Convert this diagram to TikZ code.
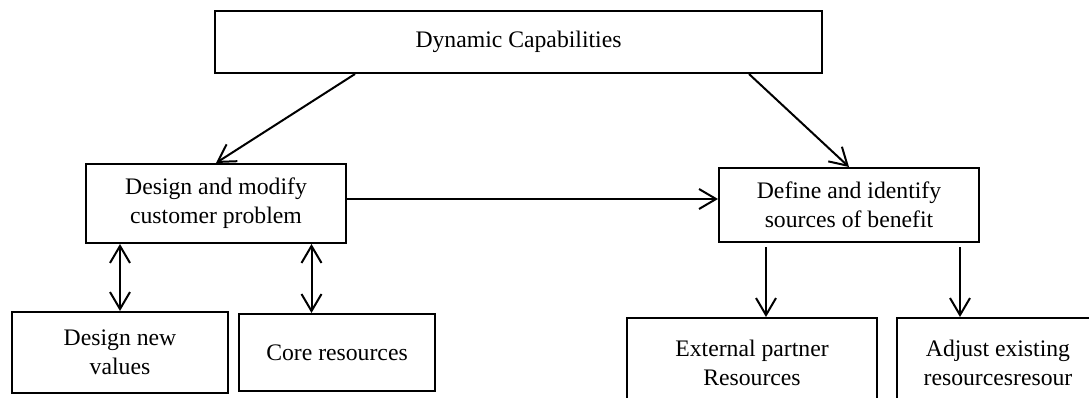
\documentclass[tikz,border=0pt]{standalone}
\usepackage{fontspec}
\setmainfont{Liberation Serif}
\usetikzlibrary{arrows.meta,positioning}

\begin{document}
\begin{tikzpicture}[x=1pt,y=-1pt]
\tikzset{
     frame/.style={draw, line width=2pt, inner sep=0pt, align=center,
        font=\fontsize{23.7}{29}\selectfont},
     barb/.tip={Straight Barb[length=17pt,width=20pt]},
     link/.style={line width=2pt, -barb},
     twoway/.style={line width=2pt, barb-barb}}

\useasboundingbox (0,0) rectangle (1089,398);
\clip (0,0) rectangle (1089,398);

% The boxes
\node (dyn) [frame, minimum width=607pt, minimum height=62pt] at (518.5,42) {Dynamic Capabilities};
\node (problem) [frame, minimum width=260pt, minimum height=79pt] at (216,203.5) {Design and modify\\customer problem};
\node (sources) [frame, minimum width=260pt, minimum height=74pt, right=371pt of problem, yshift=-1.5pt] {Define and identify\\sources of benefit};

\node (values) [frame, minimum width=216pt, minimum height=81pt] at (120,352.5) {Design new\\values};
\node (core) [frame, minimum width=196pt, minimum height=77pt] at (337,352.5) {Core resources};
\node (external) [frame, minimum width=250pt, minimum height=90pt] at (752,363) {External partner\\Resources};
\node (adjust) [frame, minimum width=202pt, minimum height=90pt, right=18pt of external] {Adjust existing\\resourcesresour};

% The arrows
\coordinate (core top) at ([xshift=-25.5pt]core.north);
\coordinate (ext top) at ([xshift=14pt]external.north);
\coordinate (adj top) at ([xshift=-38pt]adjust.north);

\draw [link] ([xshift=-163.5pt]dyn.south) -- (problem.north);
\draw [link] ([xshift=230.5pt]dyn.south) -- (sources.north);
\draw [link] ([yshift=4.5pt]problem.east) -- ([yshift=4.5pt]problem.east -| sources.west);

\draw [twoway] (problem.south -| values.north) -- (values.north);
\draw [twoway] (core top |- problem.south) -- (core top);
\draw [link, shorten <=4pt] (ext top |- sources.south) -- (ext top);
\draw [link, shorten <=4pt] (adj top |- sources.south) -- (adj top);
\end{tikzpicture}
\end{document}
